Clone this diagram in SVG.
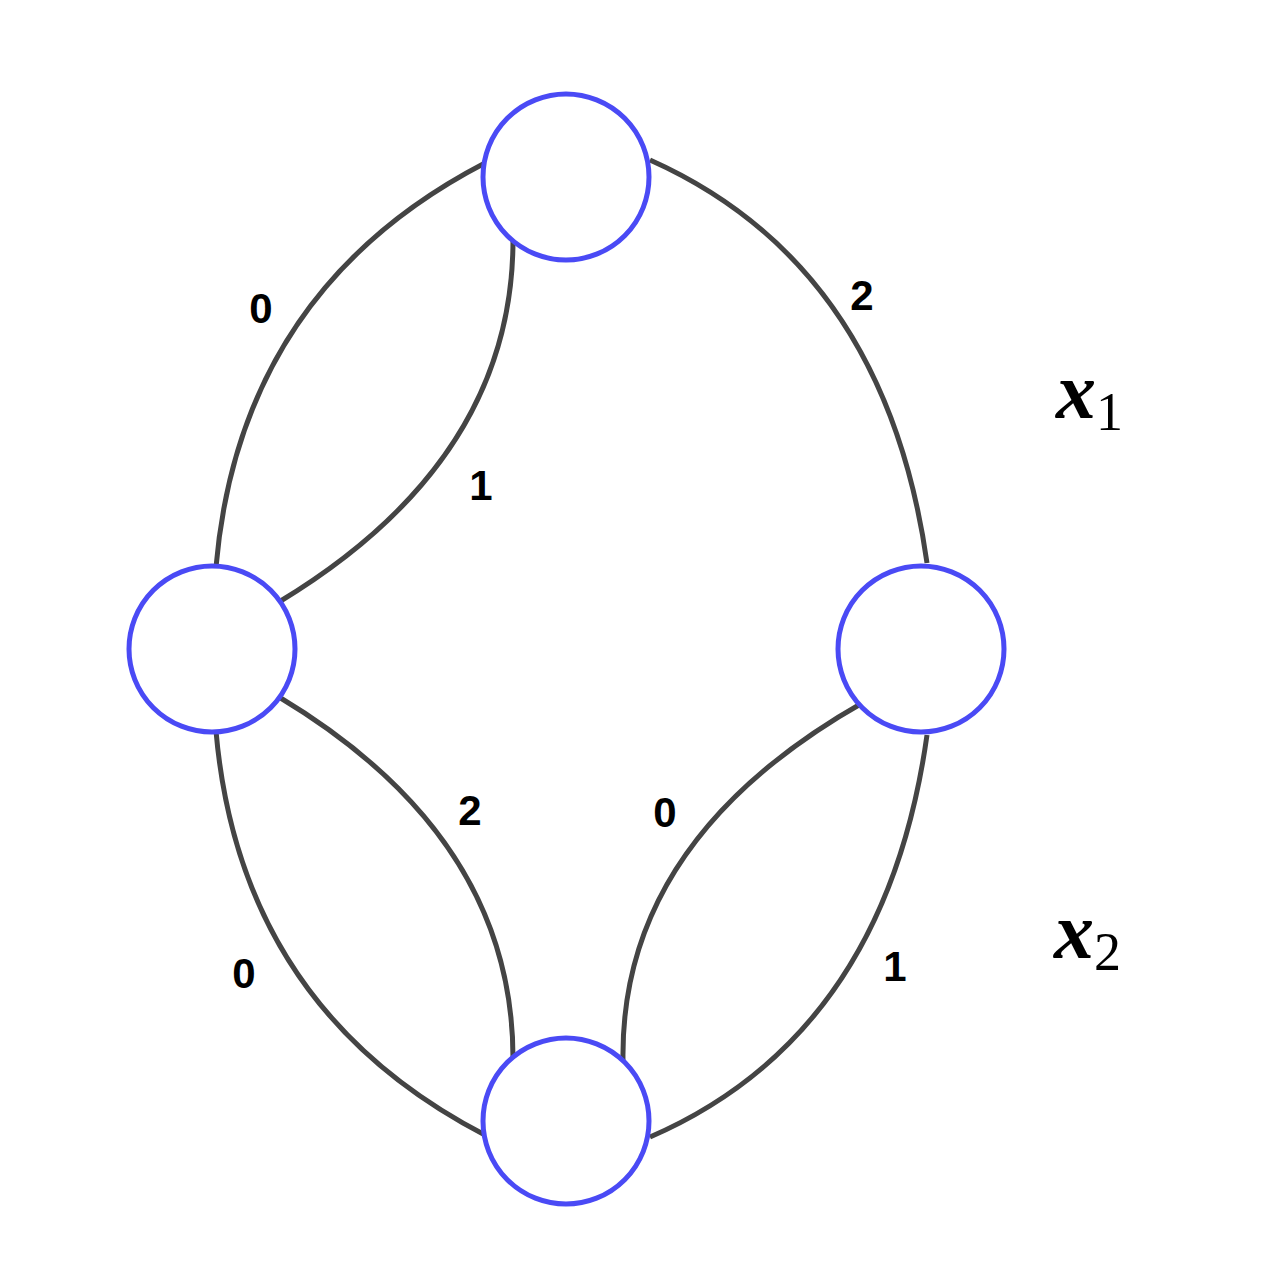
<svg xmlns="http://www.w3.org/2000/svg" width="1277" height="1275" viewBox="0 0 1277 1275">
<style>
.n{fill:#fff;stroke:#4a4af5;stroke-width:5}
.e{fill:none;stroke:#444;stroke-width:5}
.l{font-family:"Liberation Sans",sans-serif;font-weight:bold;font-size:42px;text-anchor:middle}
.m{font-family:"Liberation Serif",serif;font-style:italic;font-weight:bold;font-size:80px}
.s{font-family:"Liberation Serif",serif;font-size:54px}
</style>
<rect width="1277" height="1275" fill="#fff"/>
<g id="edges">
<path class="e" d="M485,163 Q240,290 216,567"/>
<path class="e" d="M513,238 Q514,460 279,602"/>
<path class="e" d="M650,160 Q885,265 927,563"/>
<path class="e" d="M216,731 Q240,1008 485,1135"/>
<path class="e" d="M279,697 Q514,838 513,1060"/>
<path class="e" d="M864,702 Q620,840 623,1060"/>
<path class="e" d="M927,735 Q885,1035 650,1137"/>
</g>
<g id="top"><circle class="n" cx="566" cy="177" r="83"/></g>
<g id="left"><circle class="n" cx="212" cy="649" r="83"/></g>
<g id="right"><circle class="n" cx="921" cy="649" r="83"/></g>
<g id="bottom"><circle class="n" cx="566" cy="1121" r="83"/></g>
<g id="labels">
<text class="l" x="261" y="323">0</text>
<text class="l" x="481" y="500">1</text>
<text class="l" x="862" y="310">2</text>
<text class="l" x="470" y="825">2</text>
<text class="l" x="665" y="827">0</text>
<text class="l" x="244" y="988">0</text>
<text class="l" x="895" y="981">1</text>
<text x="1056" y="418"><tspan class="m">x</tspan><tspan class="s" dy="12">1</tspan></text>
<text x="1054" y="958"><tspan class="m">x</tspan><tspan class="s" dy="12">2</tspan></text>
</g>
</svg>
